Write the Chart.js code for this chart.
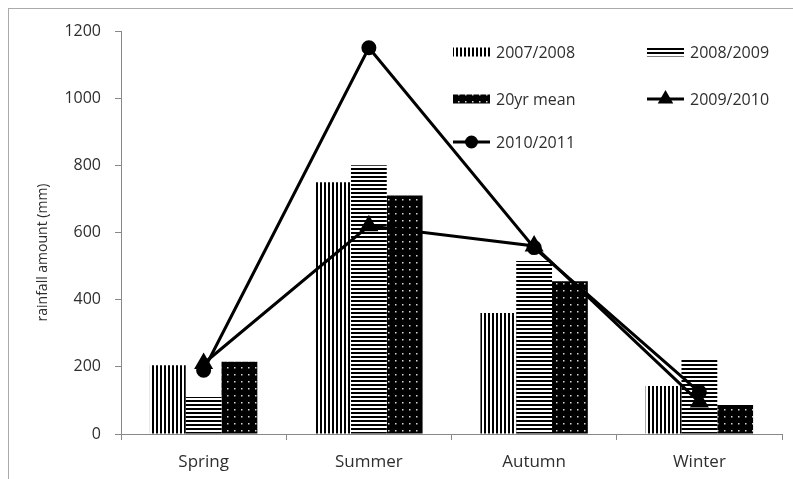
<!DOCTYPE html>
<html>
<head>
<meta charset="utf-8">
<script src="https://cdn.jsdelivr.net/npm/chart.js@4/dist/chart.umd.min.js"></script>
<style>
  html, body { margin: 0; padding: 0; background: #fff; }
  #wrap { position: relative; width: 793px; height: 479px; overflow: hidden; }
  #frame { position: absolute; left: 8px; top: 8px; width: 800px; height: 500px; border: 1px solid #aaa; box-sizing: border-box; }
  canvas { position: absolute; left: 0; top: 0; }
</style>
</head>
<body>
<div id="wrap">
  <div id="frame"></div>
  <canvas id="c" width="793" height="479"></canvas>
</div>
<script>
// Seasonal rainfall (mm)
const seasons = ['Spring', 'Summer', 'Autumn', 'Winter'];
const rain0708 = [205, 750, 360, 143];
const rain0809 = [110, 800, 515, 225];
const rainMean = [215, 710, 455, 86];
const rain0910 = [210, 620, 560, 95];
const rain1011 = [190, 1150, 555, 125];
const yTicks = [0, 200, 400, 600, 800, 1000, 1200];
const yTitle = 'rainfall amount (mm)';

const FONT = '"Open Sans", Lato, sans-serif';
const TEXT = '#2e2e2e';

// Monochrome fill patterns for the bar series
function makePattern(w, h, paint) {
  const c = document.createElement('canvas');
  c.width = w; c.height = h;
  const g = c.getContext('2d');
  paint(g);
  return document.getElementById('c').getContext('2d').createPattern(c, 'repeat');
}
const vStripes = makePattern(4, 4, g => {
  g.fillStyle = '#fff'; g.fillRect(0, 0, 4, 4);
  g.fillStyle = '#000'; g.fillRect(0, 0, 2, 4);
});
const hStripes = makePattern(4, 4, g => {
  g.fillStyle = '#fff'; g.fillRect(0, 0, 4, 4);
  g.fillStyle = '#000'; g.fillRect(0, 0, 4, 2);
});
const dots = makePattern(7, 7, g => {
  g.fillStyle = '#000'; g.fillRect(0, 0, 7, 7);
  g.fillStyle = '#d8d8d8'; g.fillRect(3, 3, 1.5, 1.5);
});

// Rotated y-axis title, sitting a little below the plot's mid-height
const yTitlePlugin = {
  id: 'yTitle',
  afterDraw(chart) {
    const ctx = chart.ctx;
    const a = chart.chartArea;
    ctx.save();
    ctx.font = '14px ' + FONT;
    ctx.fillStyle = TEXT;
    ctx.textAlign = 'center';
    ctx.textBaseline = 'middle';
    ctx.translate(43, (a.top + a.bottom) / 2 + 20);
    ctx.rotate(-Math.PI / 2);
    ctx.fillText(yTitle, 0, 0);
    ctx.restore();
  }
};

// Two-column legend drawn inside the plot, upper right
const legendPlugin = {
  id: 'seasonLegend',
  afterDraw(chart) {
    const ctx = chart.ctx;
    ctx.save();
    ctx.font = '16px ' + FONT;
    ctx.textBaseline = 'middle';
    const items = [
      { label: '2007/2008', x: 453, y: 52, kind: 'fill', fill: vStripes },
      { label: '2008/2009', x: 647, y: 52, kind: 'fill', fill: hStripes },
      { label: '20yr mean', x: 453, y: 99, kind: 'fill', fill: dots },
      { label: '2009/2010', x: 647, y: 99, kind: 'line', style: 'triangle' },
      { label: '2010/2011', x: 453, y: 142, kind: 'line', style: 'circle' }
    ];
    items.forEach(it => {
      const w = 37;
      if (it.kind === 'fill') {
        ctx.fillStyle = it.fill;
        ctx.fillRect(it.x, it.y - 4.5, w, 9);
      } else {
        ctx.strokeStyle = '#000';
        ctx.lineWidth = 3;
        ctx.beginPath();
        ctx.moveTo(it.x, it.y);
        ctx.lineTo(it.x + w, it.y);
        ctx.stroke();
        ctx.fillStyle = '#000';
        Chart.helpers.drawPoint(ctx, { pointStyle: it.style, radius: it.style === 'triangle' ? 6 : 5, borderWidth: 1 }, it.x + w / 2, it.y);
        ctx.fill();
      }
      ctx.fillStyle = TEXT;
      ctx.fillText(it.label, it.x + w + 6, it.y + 1);
    });
    ctx.restore();
  }
};

new Chart(document.getElementById('c'), {
  data: {
    labels: seasons,
    datasets: [
      { type: 'bar', label: '2007/2008', data: rain0708, backgroundColor: vStripes, borderWidth: 0, order: 2 },
      { type: 'bar', label: '2008/2009', data: rain0809, backgroundColor: hStripes, borderWidth: 0, order: 2 },
      { type: 'bar', label: '20yr mean', data: rainMean, backgroundColor: dots, borderWidth: 0, order: 2 },
      { type: 'line', label: '2009/2010', data: rain0910, borderColor: '#000', borderWidth: 3,
        pointStyle: 'triangle', pointRadius: 8, pointBackgroundColor: '#000', pointBorderColor: '#000', tension: 0, order: 1 },
      { type: 'line', label: '2010/2011', data: rain1011, borderColor: '#000', borderWidth: 3,
        pointStyle: 'circle', pointRadius: 6, pointBackgroundColor: '#000', pointBorderColor: '#000', tension: 0, order: 0 }
    ]
  },
  options: {
    responsive: false,
    animation: false,
    layout: { padding: { left: 20, right: 8, top: 31, bottom: 0 } },
    datasets: { bar: { categoryPercentage: 0.65, barPercentage: 1.0 } },
    plugins: { legend: { display: false }, tooltip: { enabled: false } },
    scales: {
      x: {
        offset: true,
        grid: { display: true, offset: true, drawOnChartArea: false, tickLength: 6, color: '#888' },
        border: { color: '#888', width: 1 },
        ticks: { font: { family: FONT, size: 17 }, color: TEXT, padding: 12 },
        afterFit(s) { s.height = 45; }
      },
      y: {
        min: 0, max: 1200,
        afterBuildTicks(s) { s.ticks = yTicks.map(v => ({ value: v })); },
        grid: { display: true, drawOnChartArea: false, tickLength: 6, color: '#888' },
        border: { color: '#888', width: 1 },
        ticks: { font: { family: FONT, size: 16 }, color: TEXT, padding: 14, callback: v => String(v) },
        afterFit(s) { s.width = 101; }
      }
    }
  },
  plugins: [legendPlugin, yTitlePlugin]
});
</script>
</body>
</html>
